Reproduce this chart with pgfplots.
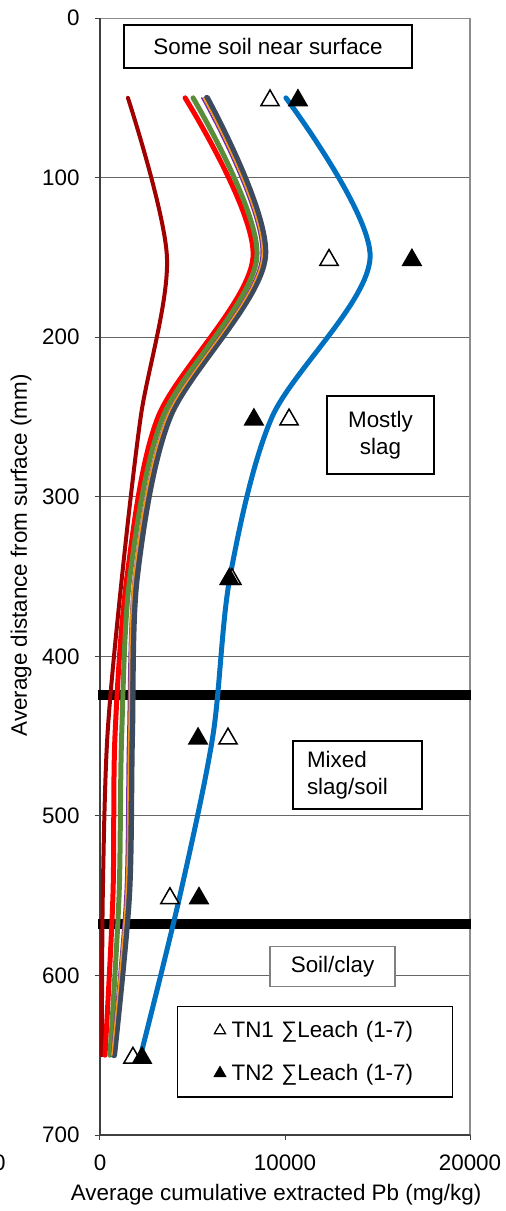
\documentclass[border=0pt]{standalone}
\usepackage{pgfplots}
\pgfplotsset{compat=1.18}
\usepackage{fontspec}
\setmainfont{Liberation Sans}
\definecolor{cDarkRed}{HTML}{A00000}
\definecolor{cRed}{HTML}{FF0000}
\definecolor{cGreen}{HTML}{5B8C3A}
\definecolor{cPurple}{HTML}{7030A0}
\definecolor{cSlate}{HTML}{3B4A5E}
\definecolor{cOrange}{HTML}{F7941D}
\definecolor{cBlue}{HTML}{0070C0}
\newcommand{\bigf}{\fontsize{22.4}{27}\selectfont}
\begin{document}
\begin{tikzpicture}
\useasboundingbox (-100pt,-76pt) rectangle (406pt,1135pt);
\begin{axis}[
  at={(0pt,0pt)}, anchor=south west,
  scale only axis, width=370pt, height=1117pt,
  xmin=0, xmax=20000, ymin=0, ymax=700,
  y dir=reverse,
  xtick={0,10000,20000}, ytick={0,100,...,700},
  scaled x ticks=false,
  xtick pos=left, ytick pos=left,
  tick align=outside, major tick length=5pt,
  tick style={black!75, line width=1pt},
  axis line style={draw=none},
  ymajorgrids, grid style={black!60, line width=1.1pt},
  /pgf/number format/1000 sep={},
  /pgf/number format/assume math mode=true,
  ticklabel style={font=\bigf},
  xticklabel style={yshift=-11pt},
  yticklabel style={xshift=-12pt},
  xlabel={Average cumulative extracted Pb (mg/kg)},
  ylabel={Average distance from surface (mm)},
  label style={font=\bigf},
  xlabel style={at={(axis description cs:0.476,-0.0537)}, anchor=center},
  ylabel style={at={(axis description cs:-0.2135,0.519)}, anchor=center},
  clip=false,
  legend image code/.code={\draw[mark repeat=2,mark phase=2,#1] plot coordinates {(0pt,0pt)(6pt,0pt)(12pt,0pt)};},
  legend style={at={(axis cs:11620,647.9)}, anchor=center, draw=black, line width=1.3pt,
    font=\bigf, inner xsep=37pt, inner ysep=13pt, row sep=21pt, legend cell align=left,
    /tikz/every odd column/.append style={column sep=4pt}},
]
% frame
\draw[black!45, line width=1.1pt] (axis cs:0,0) -- (axis cs:20000,0) -- (axis cs:20000,700);
\draw[black!75, line width=1.1pt] (axis cs:0,0) -- (axis cs:0,700) -- (axis cs:20000,700);
% layer boundaries
\draw[black, line width=10pt] (axis cs:-110,424) -- (axis cs:20050,424);
\draw[black, line width=10pt] (axis cs:-110,568) -- (axis cs:20050,568);
% curves
\addplot[forget plot, smooth, cDarkRed, line width=4pt, line cap=round] coordinates {(1510,50) (3620,150) (2200,250) (1190,350) (400,450) (150,550) (100,650)};
\addplot[forget plot, smooth, cRed, line width=5pt, line cap=round] coordinates {(4600,50) (8270,150) (3140,250) (1460,350) (810,450) (700,550) (270,650)};
\addplot[forget plot, smooth, cGreen, line width=5pt, line cap=round] coordinates {(5030,50) (8480,150) (3400,250) (1620,350) (1170,450) (1030,550) (540,650)};
\addplot[forget plot, smooth, cPurple, line width=1.5pt, line cap=round] coordinates {(5500,50) (8700,150) (3600,250) (1820,350) (1500,450) (1350,550) (620,650)};
\addplot[forget plot, smooth, cSlate, line width=6pt, line cap=round] coordinates {(5780,50) (8920,150) (3780,250) (2000,350) (1730,450) (1570,550) (760,650)};
\addplot[forget plot, smooth, cOrange, line width=1.5pt, line cap=round] coordinates {(5600,50) (8760,150) (3620,250) (1830,350) (1560,450) (1400,550) (640,650)};
\addplot[forget plot, smooth, cBlue, line width=5pt, line cap=round] coordinates {(10050,50) (14600,150) (9300,250) (7030,350) (6100,450) (4320,550) (2200,650)};
% markers
\addplot[only marks, mark=triangle*, mark size=10.5pt, mark options={draw=black, fill=white, line width=1.5pt, yshift=-2.6pt},
  legend image post style={mark size=6.5pt, mark options={draw=black, fill=white, line width=1.2pt}}]
  coordinates {(9190,50) (12380,150) (10220,250) (7130,350) (6920,450) (3780,550) (1780,650)};
\addlegendentry[text width=182pt]{TN1 ∑Leach (1-7)}
\addplot[only marks, mark=triangle*, mark size=10.5pt, mark options={draw=black, fill=black, line width=1.5pt, yshift=-2.6pt},
  legend image post style={mark size=6.5pt, mark options={draw=black, fill=black, line width=1.2pt}}]
  coordinates {(10700,50) (16860,150) (8320,250) (6990,350) (5300,450) (5350,550) (2270,650)};
\addlegendentry[text width=182pt]{TN2 ∑Leach (1-7)}
% text boxes
\node[draw=black, line width=1.3pt, minimum width=288pt, minimum height=43pt, font=\bigf, inner sep=0pt] at (axis cs:9080,17.9) {Some soil near surface};
\node[draw=black, line width=1.3pt, minimum width=107pt, minimum height=78pt, font=\bigf, align=center, inner sep=0pt] at (axis cs:15160,261.3) {Mostly\\slag};
\node[draw=black, line width=1.3pt, minimum width=129pt, minimum height=68pt, font=\bigf, align=left, inner sep=0pt, text width=101pt] at (axis cs:13920,474.3) {Mixed\\slag/soil};
\node[draw=black!50, fill=white, line width=1.3pt, minimum width=125pt, minimum height=40pt, font=\bigf, inner sep=0pt] at (axis cs:12570,594.6) {Soil/clay};
\end{axis}
\node[font=\bigf, anchor=east] at (-91pt,-28pt) {0};
\end{tikzpicture}
\end{document}
